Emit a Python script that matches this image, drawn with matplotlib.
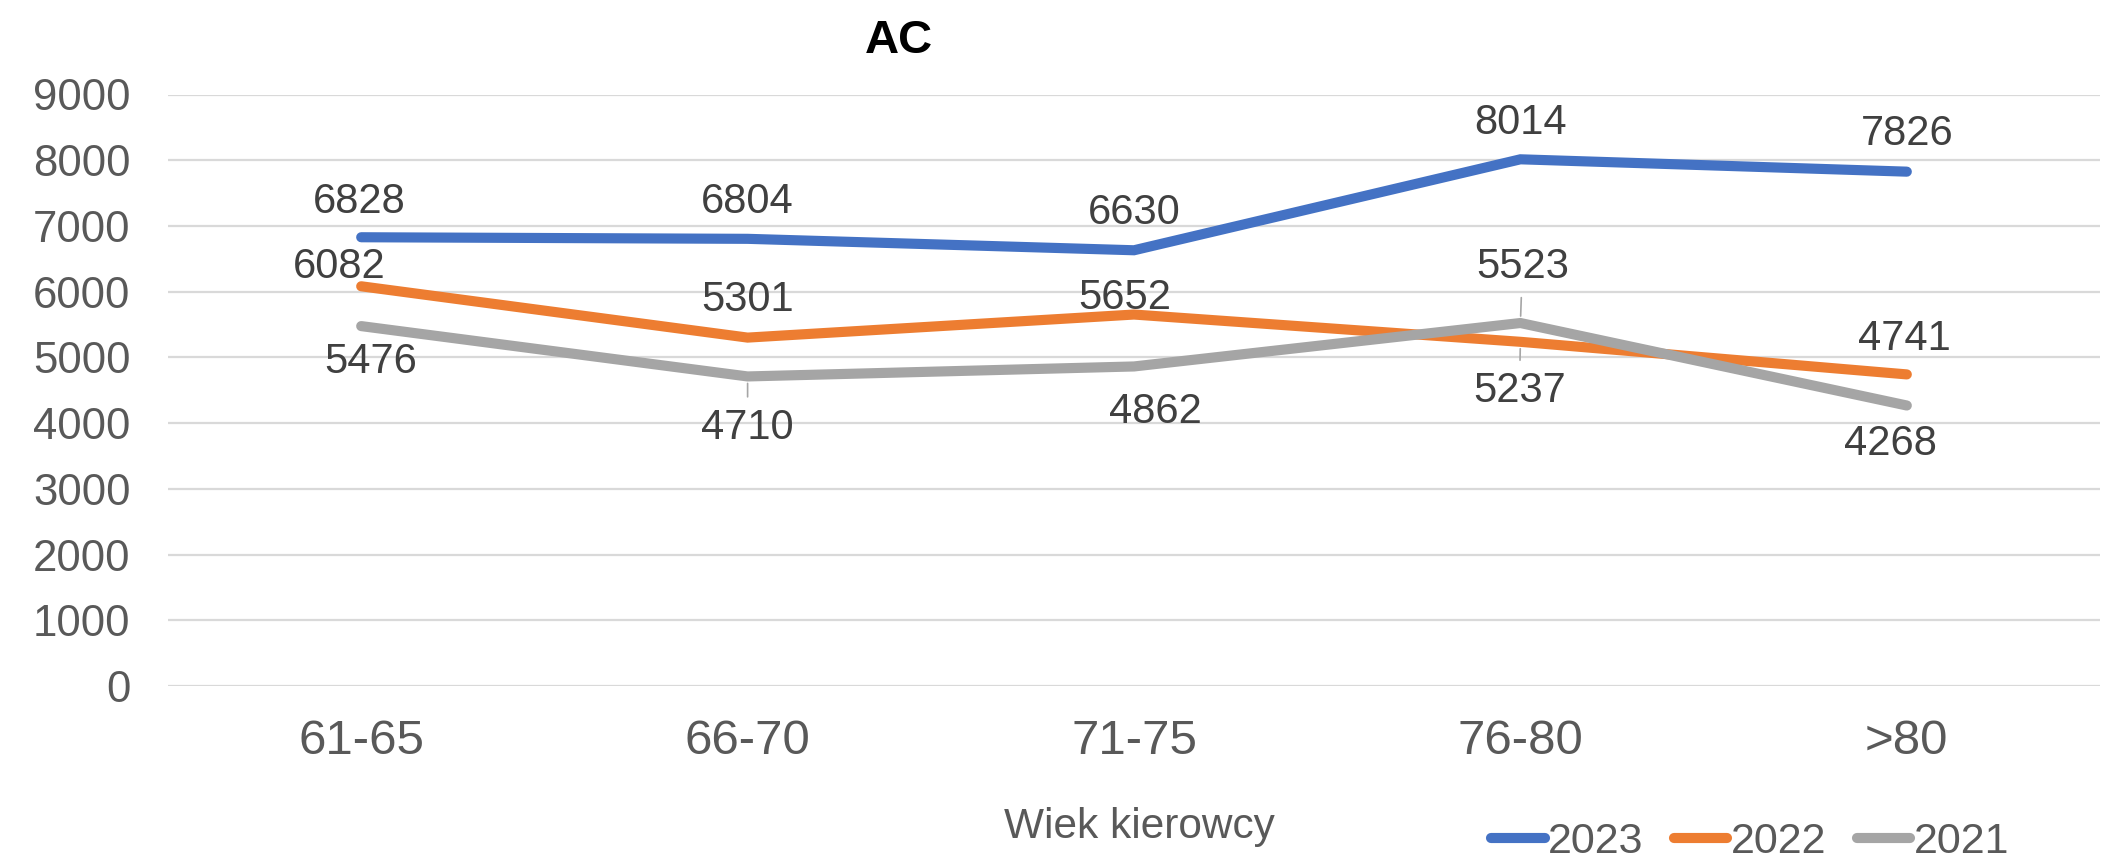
import matplotlib
matplotlib.use("Agg")
import matplotlib.pyplot as plt

plt.rcParams['font.family'] = ['Liberation Sans', 'DejaVu Sans']

categories = ['61-65', '66-70', '71-75', '76-80', '>80']
series_names = ['2023', '2022', '2021']
values_2023 = [6828, 6804, 6630, 8014, 7826]
values_2022 = [6082, 5301, 5652, 5237, 4741]
values_2021 = [5476, 4710, 4862, 5523, 4268]
y_ticks = [0, 1000, 2000, 3000, 4000, 5000, 6000, 7000, 8000, 9000]

colors = ['#4472C4', '#ED7D31', '#A5A5A5']
# label offsets in pixels (dx, dy) and whether a leader line is drawn
offsets_2023 = [(-2, 40), (0, 41), (0, 42), (0, 41), (0, 42)]
offsets_2022 = [(-22, 24), (0, 42), (-9, 21), (-1, -45), (-2, 40)]
offsets_2021 = [(10, -31), (0, -47), (21, -41), (2, 61), (-16, -34)]
leaders_2022 = [False, False, False, True, False]
leaders_2021 = [False, True, False, True, False]
leaders_2023 = [False] * 5

fig = plt.figure(figsize=(21.07, 8.64), dpi=100)
ax = fig.add_axes([168 / 2107, 1 - 686 / 864, (2100 - 168) / 2107, (686 - 94.5) / 864])

x = list(range(len(categories)))
all_vals = [values_2023, values_2022, values_2021]
all_offs = [offsets_2023, offsets_2022, offsets_2021]
all_lead = [leaders_2023, leaders_2022, leaders_2021]

for name, vals, col in zip(series_names, all_vals, colors):
    ax.plot(x, vals, color=col, lw=7.3, solid_capstyle='round',
            solid_joinstyle='miter', label=name, zorder=3)

for vals, offs, leads in zip(all_vals, all_offs, all_lead):
    for xi, v, (dx, dy), lead in zip(x, vals, offs, leads):
        kw = {}
        if lead:
            kw['arrowprops'] = dict(arrowstyle='-', color='#A6A6A6', lw=1.2,
                                    shrinkA=6, shrinkB=5)
        ax.annotate(f'{v}', xy=(xi, v), xytext=(dx, dy),
                    textcoords='offset pixels', ha='center',
                    va='center_baseline', fontsize=30, color='#404040',
                    zorder=5, **kw)

ax.set_xlim(-0.5, len(categories) - 0.5)
ax.set_ylim(0, 9000)
ax.set_yticks(y_ticks)
ax.set_yticklabels([str(t) for t in y_ticks])
ax.set_xticks(x)
ax.set_xticklabels(categories)
ax.tick_params(axis='y', length=0, pad=27, labelsize=31.5, labelcolor='#595959')
ax.tick_params(axis='x', length=0, pad=24, labelsize=35.5, labelcolor='#595959')
ax.grid(axis='y', color='#D9D9D9', lw=1.6, zorder=0)
ax.set_axisbelow(True)
for s in ax.spines.values():
    s.set_visible(False)

fig.text(899 / 2107, 1 - 53 / 864, 'AC', ha='center', va='baseline',
         fontsize=34, fontweight='bold', color='black')
fig.text(1139 / 2107, 1 - 838 / 864, 'Wiek kierowcy', ha='center', va='baseline',
         fontsize=30.5, color='#595959')

leg = ax.legend(loc='center', bbox_to_anchor=(1750 / 2107, 1 - 842 / 864),
                bbox_transform=fig.transFigure, ncol=3, frameon=False,
                fontsize=31, handlelength=1.25, handletextpad=0.08,
                columnspacing=0.7, borderpad=0, borderaxespad=0)
for t in leg.get_texts():
    t.set_color('#595959')

fig.savefig('out.png', dpi=100)
